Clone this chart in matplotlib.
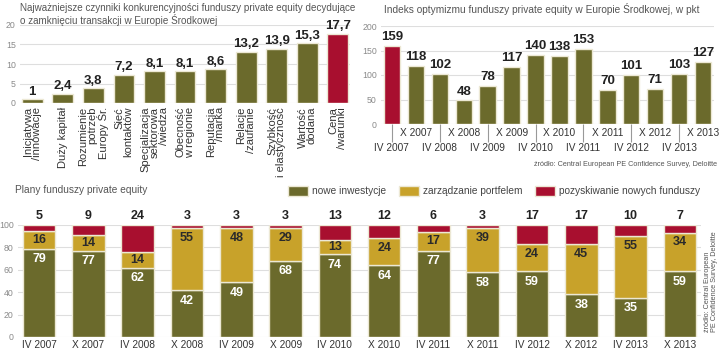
import numpy as np
import matplotlib
matplotlib.use('Agg')
from matplotlib import pyplot as plt
from matplotlib.patches import Patch

OLIVE = '#6b6a2c'
GOLD = '#c8a22a'
RED = '#a80f2f'
GRID = '#dedede'
EDGE = '#ece8d4'
FONT = ['Liberation Sans', 'DejaVu Sans']

# top left: competitiveness factors
factor_labels = ['Inicjatywa\n/innowacje', 'Duży kapitał', 'Rozumienie\npotrzeb\nEuropy Śr.',
                 'Sieć\nkontaktów', 'Specjalizacja\nsektorowa\n/wiedza', 'Obecność\nw regionie',
                 'Reputacja\n/marka', 'Relacje\n/zaufanie', 'Szybkość\ni elastyczność',
                 'Wartość\ndodana', 'Cena\n/warunki']
factor_values = [1, 2.4, 3.8, 7.2, 8.1, 8.1, 8.6, 13.2, 13.9, 15.3, 17.7]

# top right: optimism index
index_periods = ['IV 2007', 'X 2007', 'IV 2008', 'X 2008', 'IV 2009', 'X 2009', 'IV 2010',
                 'X 2010', 'IV 2011', 'X 2011', 'IV 2012', 'X 2012', 'IV 2013', 'X 2013']
index_values = [159, 118, 102, 48, 78, 117, 140, 138, 153, 70, 101, 71, 103, 127]

# bottom: plans
plan_periods = index_periods
nowe = [79, 77, 62, 42, 49, 68, 74, 64, 77, 58, 59, 38, 35, 59]
zarzadzanie = [16, 14, 14, 55, 48, 29, 13, 24, 17, 39, 24, 45, 55, 34]
pozyskiwanie = [5, 9, 24, 3, 3, 3, 13, 12, 6, 3, 17, 17, 10, 7]

plt.rcParams['font.family'] = FONT

fig = plt.figure(figsize=(7.2, 3.52), dpi=100)


def style_axes(ax):
    for s in ax.spines.values():
        s.set_visible(False)
    ax.yaxis.grid(True, color=GRID, linewidth=0.8)
    ax.set_axisbelow(True)
    ax.tick_params(axis='y', length=0, labelsize=6.3, labelcolor='#8a8a8a', pad=3)


# ---- top left
ax1 = fig.add_axes([20 / 720, 1 - 103 / 352, 330 / 720, 78 / 352])
style_axes(ax1)
x1 = np.arange(len(factor_values))
cols1 = [OLIVE] * (len(factor_values) - 1) + [RED]
ax1.bar(x1, factor_values, width=0.68, color=cols1, edgecolor=EDGE, linewidth=1)
ax1.set_ylim(0, 20)
ax1.set_yticks([0, 5, 10, 15, 20])
ax1.set_xlim(-0.4, len(factor_values) - 0.6)
ax1.set_xticks([])
for xi, v in zip(x1, factor_values):
    ax1.text(xi, v + 0.4, f'{v:g}'.replace('.', ','), ha='center', va='bottom',
             fontsize=9.5, fontweight='bold', color='#222222')
for xi, lab in zip(x1, factor_labels):
    ax1.text(xi, -1.0, lab, rotation=90, ha='center', va='top', multialignment='right',
             fontsize=8, color='#333333', linespacing=0.92)
fig.text(20 / 720, 1 - 3 / 352, 'Najważniejsze czynniki konkurencyjności funduszy private equity decydujące',
         ha='left', va='top', fontsize=7.1, color='#555555')
fig.text(20 / 720, 1 - 14.5 / 352, 'o zamknięciu transakcji w Europie Środkowej',
         ha='left', va='top', fontsize=7.1, color='#555555')

# ---- top right
ax2 = fig.add_axes([381 / 720, 1 - 124 / 352, 333 / 720, 98 / 352])
style_axes(ax2)
x2 = np.arange(len(index_values))
cols2 = [RED] + [OLIVE] * (len(index_values) - 1)
ax2.bar(x2, index_values, width=0.68, color=cols2, edgecolor=EDGE, linewidth=1)
ax2.set_ylim(0, 200)
ax2.set_yticks([0, 50, 100, 150, 200])
ax2.set_xlim(-0.45, len(index_values) - 0.55)
for xi, v in zip(x2, index_values):
    ax2.text(xi, v + 6, str(v), ha='center', va='bottom', fontsize=9.5,
             fontweight='bold', color='#222222')
ax2.set_xticks(x2[::2])
ax2.set_xticklabels(index_periods[::2])
ax2.set_xticks(x2[1::2], minor=True)
ax2.set_xticklabels(index_periods[1::2], minor=True)
ax2.tick_params(axis='x', which='major', length=13, color='#999999', width=0.8,
                labelsize=7.3, labelcolor='#333333', pad=1)
ax2.tick_params(axis='x', which='minor', length=0, labelsize=7.3, labelcolor='#333333', pad=3)
fig.text(717 / 720, 1 - 165 / 352, 'źródło: Central European PE Confidence Survey, Deloitte',
         ha='right', va='center', fontsize=5.2, color='#555555')
fig.text(384 / 720, 1 - 3 / 352, 'Indeks optymizmu funduszy private equity w Europie Środkowej, w pkt',
         ha='left', va='top', fontsize=7.3, color='#555555')

# ---- bottom
ax3 = fig.add_axes([18 / 720, 1 - 337 / 352, 683 / 720, 112 / 352])
style_axes(ax3)
x3 = np.arange(len(plan_periods))
nowe_a = np.array(nowe)
zarz_a = np.array(zarzadzanie)
poz_a = np.array(pozyskiwanie)
w = 0.66
ax3.bar(x3, nowe_a, width=w, color=OLIVE, edgecolor=EDGE, linewidth=1)
ax3.bar(x3, zarz_a, width=w, bottom=nowe_a, color=GOLD, edgecolor=EDGE, linewidth=1)
ax3.bar(x3, poz_a, width=w, bottom=nowe_a + zarz_a, color=RED, edgecolor=EDGE, linewidth=1)
ax3.set_ylim(0, 100)
ax3.set_yticks([0, 20, 40, 60, 80, 100])
ax3.set_xlim(-0.43, len(plan_periods) - 0.57)
ax3.set_xticks(x3)
ax3.set_xticklabels(plan_periods)
ax3.tick_params(axis='x', length=0, labelsize=7.3, labelcolor='#333333', pad=2)
for xi, a, b, c in zip(x3, nowe_a, zarz_a, poz_a):
    ax3.text(xi, a - 9.5, str(a), ha='center', va='center', fontsize=9,
             fontweight='bold', color='white')
    ax3.text(xi, a + b - min(b / 2, 8.5), str(b), ha='center', va='center', fontsize=9,
             fontweight='bold', color='#2a2a2a')
    ax3.text(xi, 102.5, str(c), ha='center', va='bottom', fontsize=9,
             fontweight='bold', color='#222222', clip_on=False)
fig.text(15 / 720, 1 - 190 / 352, 'Plany funduszy private equity', ha='left', va='center',
         fontsize=7.3, color='#555555')
handles = [Patch(facecolor=OLIVE, edgecolor=EDGE, label='nowe inwestycje'),
           Patch(facecolor=GOLD, edgecolor=EDGE, label='zarządzanie portfelem'),
           Patch(facecolor=RED, edgecolor=EDGE, label='pozyskiwanie nowych funduszy')]
fig.legend(handles=handles, ncol=3, loc='center left', bbox_to_anchor=(288 / 720, 1 - 191 / 352),
           frameon=False, fontsize=7.3, handlelength=2.0, handleheight=1.1,
           columnspacing=1.2, handletextpad=0.4, labelcolor='#444444',
           borderpad=0, borderaxespad=0)
fig.text(711 / 720, 1 - 282 / 352, 'źródło: Central European\nPE Confidence Survey, Deloitte',
         rotation=90, ha='center', va='center', fontsize=5.2, color='#555555',
         multialignment='left', linespacing=1.0)

fig.savefig('out.png', dpi=100, facecolor='white')
